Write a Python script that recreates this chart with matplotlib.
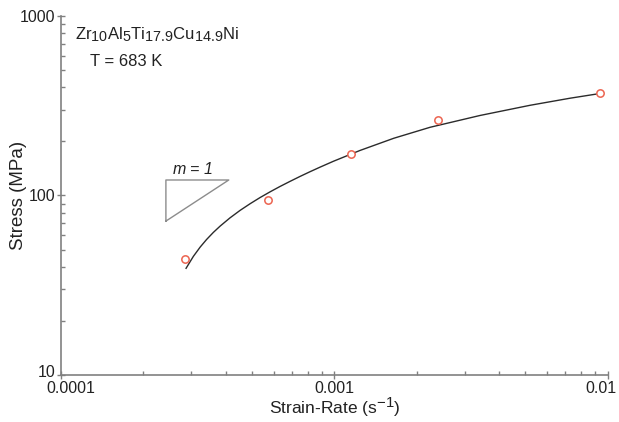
import matplotlib.pyplot as plt
import matplotlib.ticker as mticker
import matplotlib.transforms as mtrans
import matplotlib._mathtext as mathtext_mod

plt.rcParams['font.family'] = ['Liberation Sans', 'DejaVu Sans']
plt.rcParams['mathtext.fontset'] = 'custom'
plt.rcParams['mathtext.rm'] = 'Liberation Sans'
plt.rcParams['mathtext.it'] = 'Liberation Sans:italic'
# subscripts in the original are only slightly smaller than the main text
mathtext_mod.SHRINK_FACTOR = 0.86

# measured points
strain_rate = [2.84e-4, 5.71e-4, 1.15e-3, 2.39e-3, 9.38e-3]
stress = [44.1, 94.4, 169.7, 262, 374]

# fitted curve
fit_rate = [2.868e-4, 3.05e-4, 3.23e-4, 3.41e-4, 3.61e-4, 3.82e-4, 4.15e-4,
            4.52e-4, 4.92e-4, 5.35e-4, 5.82e-4, 6.33e-4, 6.88e-4, 7.49e-4,
            8.15e-4, 8.87e-4, 9.92e-4, 1.24e-3, 1.65e-3, 2.24e-3, 3.41e-3,
            5.20e-3, 7.28e-3, 9.38e-3]
fit_stress = [39.3, 45.8, 51.6, 56.9, 62.3, 67.5, 75.0,
              82.6, 90.0, 97.4, 104.8, 112.3, 119.8, 127.7,
              135.7, 143.9, 155.1, 178.1, 208.4, 239.9, 279.1,
              318.1, 348.3, 370.1]

# slope triangle m = 1
tri_x = [2.42e-4, 2.42e-4, 4.11e-4, 2.42e-4]
tri_y = [72, 122, 122, 72]

fig = plt.figure(figsize=(6.19, 4.22), dpi=100)
ax = fig.add_axes([0.0985, 0.1114, 0.8833, 0.8507])

ax.plot(fit_rate, fit_stress, '-', color='#2b2b2b', lw=1.0)
ax.plot(strain_rate, stress, 'o', ms=5.3, mfc='white', mec='#ec6450', mew=1.1)
ax.plot(tri_x, tri_y, '-', color='#8c8c8c', lw=1.0)
ax.text(2.55e-4, 126, r'$m$ = 1', fontsize=11.5, style='italic',
        ha='left', va='bottom', color='#222')

ax.set_xscale('log')
ax.set_yscale('log')
ax.set_xlim(1e-4, 1e-2)
ax.set_ylim(10, 1000)

ax.xaxis.set_major_locator(mticker.FixedLocator([1e-4, 1e-3, 1e-2]))
ax.xaxis.set_major_formatter(mticker.FixedFormatter(['0.0001', '0.001', '0.01']))
ax.yaxis.set_major_locator(mticker.FixedLocator([10, 100, 1000]))
ax.yaxis.set_major_formatter(mticker.FixedFormatter(['10', '100', '1000']))

for s in ['top', 'right']:
    ax.spines[s].set_visible(False)
for s in ['left', 'bottom']:
    ax.spines[s].set_color('#808080')
    ax.spines[s].set_linewidth(1.2)

ax.tick_params(which='major', direction='inout', length=6, width=1, color='#808080',
               labelsize=11.5, labelcolor='#222', pad=1)
ax.tick_params(which='minor', direction='in', length=3, width=1, color='#808080')
ax.tick_params(axis='y', which='major', pad=1)

# labels at the ends are nudged inwards like in the original
xlabels = ax.get_xticklabels()
xlabels[0].set_transform(xlabels[0].get_transform() +
                         mtrans.ScaledTranslation(7 / 72, 0, fig.dpi_scale_trans))
xlabels[-1].set_transform(xlabels[-1].get_transform() +
                          mtrans.ScaledTranslation(-5 / 72, 0, fig.dpi_scale_trans))
ylabels = ax.get_yticklabels()
ylabels[0].set_transform(ylabels[0].get_transform() +
                         mtrans.ScaledTranslation(0, 3 / 72, fig.dpi_scale_trans))

ax.set_xlabel('Strain-Rate (s$^{-1}$)', fontsize=12.5, color='#222')
ax.set_ylabel('Stress (MPa)', fontsize=13.5, color='#222')
ax.xaxis.set_label_coords(0.5, -0.056)
ax.yaxis.set_label_coords(-0.063, 0.5)

ax.text(0.026, 0.975, r'Zr$_{10}$Al$_5$Ti$_{17.9}$Cu$_{14.9}$Ni', transform=ax.transAxes,
        fontsize=12, color='#222', va='top')
ax.text(0.054, 0.895, 'T = 683 K', transform=ax.transAxes,
        fontsize=12, color='#222', va='top')

fig.savefig('out.png', dpi=100)
